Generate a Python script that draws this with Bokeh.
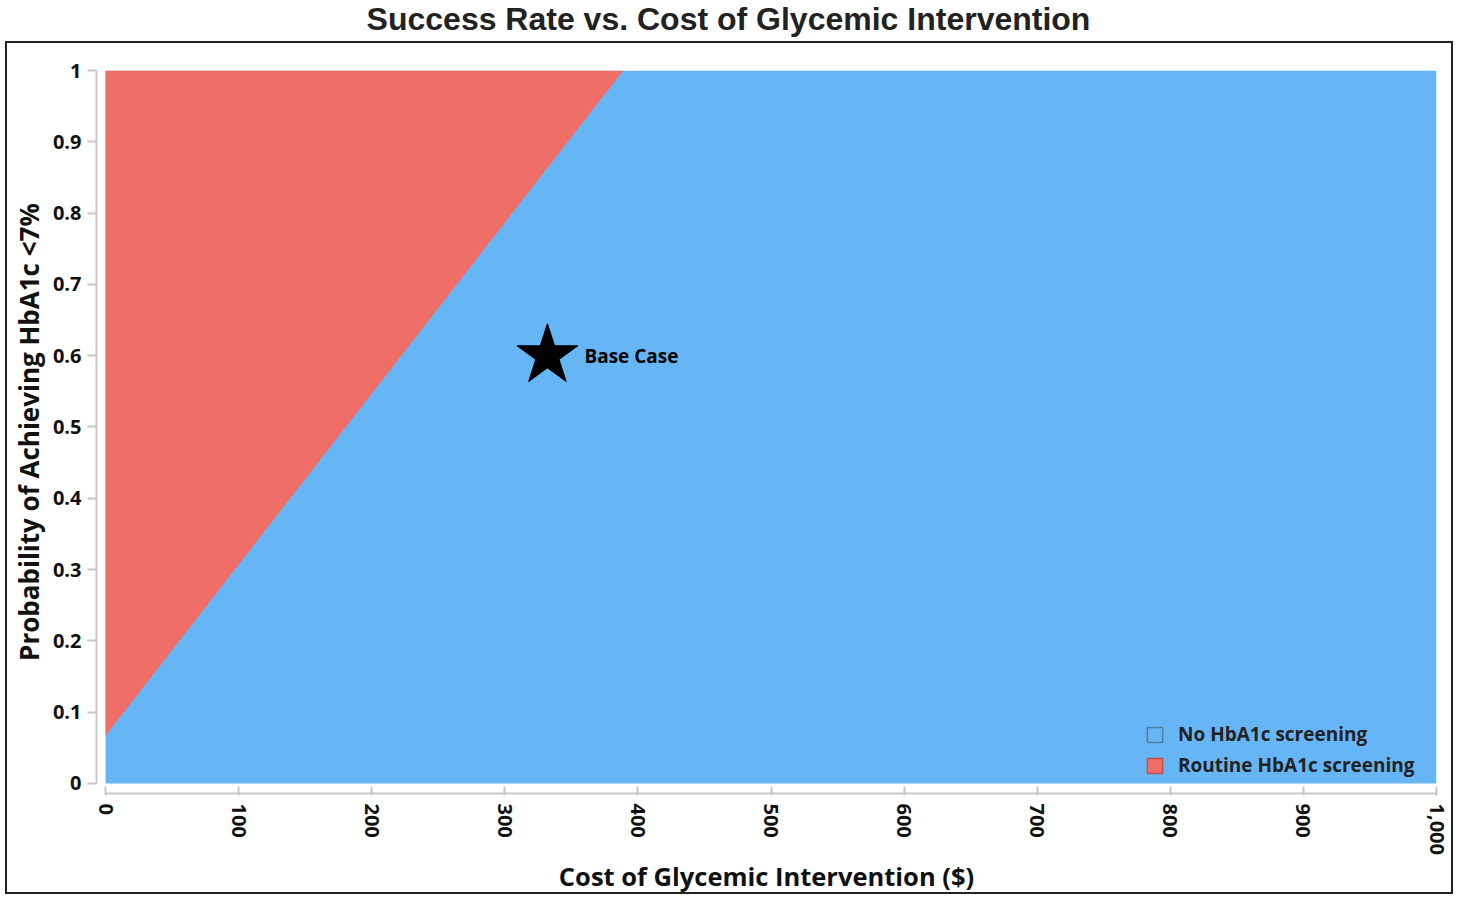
import numpy as np
from bokeh.plotting import figure
from bokeh.layouts import column
from bokeh.models import Range1d, FixedTicker, Label, Legend, LegendItem
from bokeh.core.properties import value
from bokeh.embed import file_html
from bokeh.resources import INLINE

# ---- data ----
title_text = "Success Rate vs. Cost of Glycemic Intervention"
x_label = "Cost of Glycemic Intervention ($)"
y_label = "Probability of Achieving HbA1c <7%"

cost_min, cost_max = 0, 1000
prob_min, prob_max = 0.0, 1.0

# threshold line separating the two strategies (cost, probability)
boundary_cost = [0, 389]
boundary_prob = [0.067, 1.0]

base_case_cost = [332]
base_case_prob = [0.6]
base_case_label = ["Base Case"]

x_ticks = [0, 100, 200, 300, 400, 500, 600, 700, 800, 900, 1000]
x_tick_labels = ["0", "100", "200", "300", "400", "500", "600", "700", "800", "900", "1,000"]
y_ticks = [0, 0.1, 0.2, 0.3, 0.4, 0.5, 0.6, 0.7, 0.8, 0.9, 1.0]
y_tick_labels = ["0", "0.1", "0.2", "0.3", "0.4", "0.5", "0.6", "0.7", "0.8", "0.9", "1"]

series_names = ["No HbA1c screening", "Routine HbA1c screening"]

BLUE = "#66b6f6"
RED = "#ef6f68"
BLUE_EDGE = "#4f7ea8"
RED_EDGE = "#c0504d"
FONT = "Open Sans"
TITLE_FONT = "Liberation Sans"

# ---- title strip ----
TW, TH = 1457, 41
tfig = figure(width=TW, height=TH, output_backend="svg", toolbar_location=None,
              x_range=Range1d(0, 1), y_range=Range1d(0, 1),
              x_axis_location=None, y_axis_location=None, min_border=0,
              background_fill_color="white", border_fill_color="white")
tfig.outline_line_color = None
tfig.grid.visible = False
tfig.add_layout(Label(x=728, y=18, x_units="canvas", y_units="canvas", text=title_text,
                      text_font=TITLE_FONT, text_font_style="bold", text_font_size="32px",
                      text_color="#222222", text_align="center", text_baseline="middle"))

# ---- main chart (boxed) ----
W, H = 1448, 853           # outer size incl. 2px border
ML, MR, MT, MB = 89, 19, 27, 103

px_per_x = 1327 / (cost_max - cost_min)
px_per_y = 709 / (prob_max - prob_min)

p = figure(width=W, height=H, output_backend="svg", toolbar_location=None,
           x_range=Range1d(cost_min - 9 / px_per_x, cost_max),
           y_range=Range1d(prob_min - 10 / px_per_y, prob_max),
           min_border_left=ML, min_border_right=MR, min_border_top=MT, min_border_bottom=MB,
           background_fill_color="white", border_fill_color="white")
p.styles = {"border": "2px solid #222222"}
p.margin = (0, 0, 0, 5)
p.outline_line_color = None
p.grid.visible = False

# blue region (whole domain)
p.quad(left=[cost_min], right=[cost_max], bottom=[prob_min], top=[prob_max],
       fill_color=BLUE, line_color=None)
# red region above the threshold line
p.patch(x=[boundary_cost[0], boundary_cost[0], boundary_cost[1]],
        y=[boundary_prob[0], prob_max, boundary_prob[1]],
        fill_color=RED, line_color=None)

# base case marker and label
p.scatter(x=base_case_cost, y=base_case_prob, marker="star", size=64,
          fill_color="black", line_color="black")
p.text(x=base_case_cost, y=base_case_prob, text=base_case_label, x_offset=37, y_offset=0,
       text_font=value(FONT), text_font_style="bold", text_font_size="19px",
       text_baseline="middle", text_align="left", text_color="black")

# legend proxies (not drawn in the plot area)
r_blue = p.quad(left=[np.nan], right=[np.nan], bottom=[np.nan], top=[np.nan],
                fill_color=BLUE, line_color=BLUE_EDGE, line_width=1.5)
r_red = p.quad(left=[np.nan], right=[np.nan], bottom=[np.nan], top=[np.nan],
               fill_color=RED, line_color=RED_EDGE, line_width=1.5)
legend = Legend(items=[LegendItem(label=series_names[0], renderers=[r_blue]),
                       LegendItem(label=series_names[1], renderers=[r_red])],
                location=(1049, 15), padding=0, margin=0, spacing=5,
                glyph_width=19, glyph_height=19, label_height=17, label_standoff=14,
                label_text_font=FONT, label_text_font_style="bold", label_text_font_size="19px",
                label_text_color="#222222", label_text_baseline="middle",
                background_fill_alpha=0, border_line_color=None)
p.add_layout(legend, "center")

# axes
xa = p.xaxis[0]
ya = p.yaxis[0]
xa.ticker = FixedTicker(ticks=x_ticks)
ya.ticker = FixedTicker(ticks=y_ticks)
xa.major_label_overrides = {t: l for t, l in zip(x_ticks, x_tick_labels)}
ya.major_label_overrides = {t: l for t, l in zip(y_ticks, y_tick_labels)}
xa.bounds = (cost_min, cost_max)
ya.bounds = (prob_min, prob_max)
for ax in (xa, ya):
    ax.axis_line_color = "#c8c8c8"
    ax.axis_line_width = 2
    ax.major_tick_line_color = "#c8c8c8"
    ax.major_tick_line_width = 2
    ax.minor_tick_line_color = None
    ax.major_label_text_font = FONT
    ax.major_label_text_font_style = "bold"
    ax.major_label_text_font_size = "20px"
    ax.major_label_text_color = "#111111"
    ax.axis_label_text_font = FONT
    ax.axis_label_text_font_style = "bold"
    ax.axis_label_text_color = "#111111"
xa.axis_label_text_font_size = "25.5px"
ya.axis_label_text_font_size = "26px"
xa.major_tick_in = 7
xa.major_tick_out = 2
xa.major_label_orientation = "vertical"
xa.major_label_standoff = 8
xa.axis_label = x_label
xa.axis_label_standoff = 1
ya.major_tick_in = 0
ya.major_tick_out = 9
ya.major_label_standoff = 6
ya.axis_label = y_label
ya.axis_label_standoff = 3

layout = column(tfig, p, spacing=0)
open("out.html", "w").write(file_html(layout, INLINE))
